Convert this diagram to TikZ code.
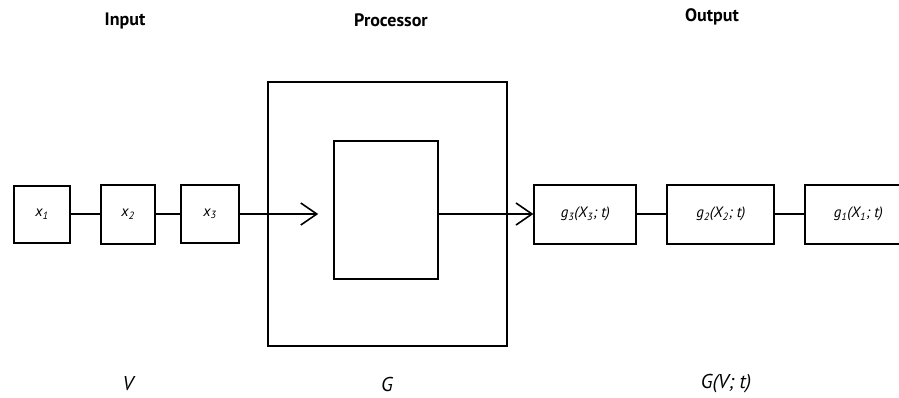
\documentclass[tikz,border=0pt]{standalone}
\usepackage{fontspec}
\setmainfont{PT Sans}
\usepackage{tikz}
\usetikzlibrary{arrows.meta,positioning}

\begin{document}
\begin{tikzpicture}[
  x=1pt, y=-1pt,
  >={Straight Barb[length=16pt,width=22pt,line width=1.6pt]},
  font=\fontsize{14}{16}\selectfont,
  blk/.style={draw,line width=2pt,inner sep=0pt,font=\fontsize{15}{17}\selectfont\itshape},
  ttl/.style={font=\fontsize{18}{20}\selectfont\bfseries},
  lbl/.style={inner sep=1pt,font=\fontsize{20}{22}\selectfont\itshape},
  ln/.style={line width=1.4pt},
  ar/.style={->,line width=1.4pt}
]
\useasboundingbox (0,0) rectangle (899,397);
\clip (0,0) rectangle (899,397);
% input row
\node[blk,minimum width=56pt,minimum height=57pt] (x1) at (42,214) {x\textsubscript{1}};
\node[blk,minimum width=54pt,minimum height=59pt,right=29pt of x1] (x2) {x\textsubscript{2}};
\node[blk,minimum width=58pt,minimum height=58pt,right=24pt of x2] (x3) {x\textsubscript{3}};
\draw[ln] (x1) -- (x2); \draw[ln] (x2) -- (x3);
% processor
\node[blk,line width=2.4pt,minimum width=239pt,minimum height=264pt,right=27pt of x3] (proc) {};
\node[blk,minimum width=104pt,minimum height=138pt] (core) at ([xshift=-1.5pt,yshift=4pt]proc.center) {};
\coordinate[left=15pt of core.west |- x3.east] (intip);
\draw[ar] (x3.east) -- (intip);
% output row
\node[blk,minimum width=102pt,minimum height=59pt,right=25pt of proc] (g3) {g\textsubscript{3}(X\textsubscript{3}; t)};
\node[blk,minimum width=107pt,minimum height=59pt,right=29pt of g3] (g2) {g\textsubscript{2}(X\textsubscript{2}; t)};
\node[blk,minimum width=106pt,minimum height=59pt,right=29pt of g2] (g1) {g\textsubscript{1}(X\textsubscript{1}; t)};
\draw[ar] (core.east |- g3.west) -- (g3.west);
\draw[ln] (g3) -- (g2); \draw[ln] (g2) -- (g1);
% headings and symbols
\node[ttl] (tin) at (125,21) {Input};
\node[ttl] (tproc) at (391,20) {Processor};
\node[ttl] (tout) at (712,17) {Output};
\node[lbl] (sv) at (128,384) {V};
\node[lbl] (sg) at (387,384) {G};
\node[lbl] (sgv) at (726,384) {G(V; t)};
\end{tikzpicture}
\end{document}
